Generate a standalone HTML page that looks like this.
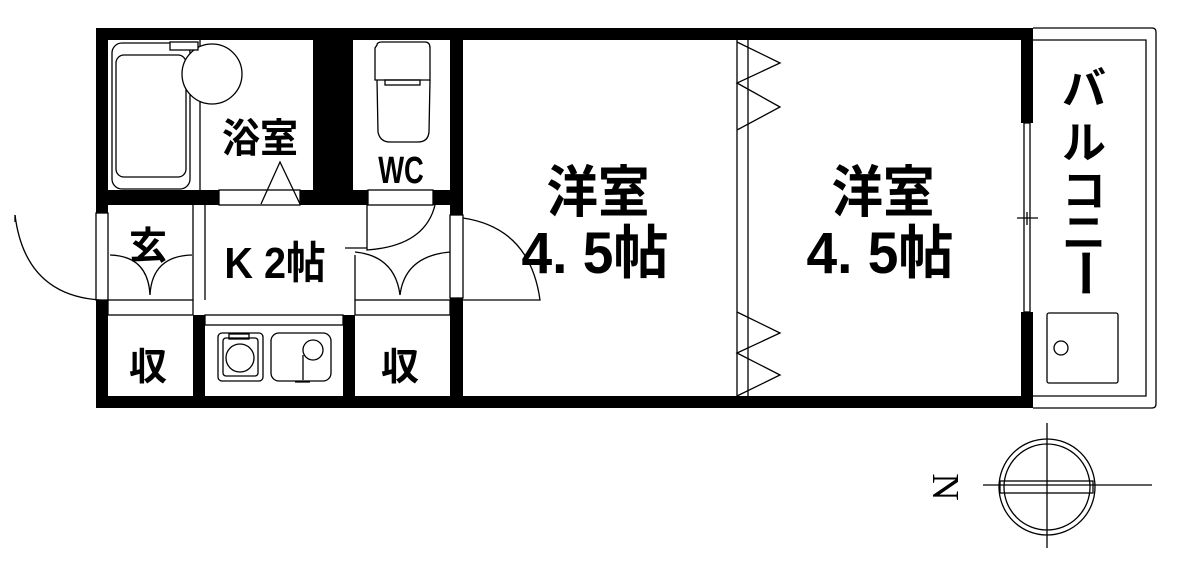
<!DOCTYPE html>
<html><head><meta charset="utf-8"><style>
html,body{margin:0;padding:0;background:#fff;}
svg{display:block}
text{font-family:"Liberation Sans","Noto Sans CJK JP",sans-serif;font-weight:bold;fill:#000}
</style></head><body>
<svg width="1185" height="571" viewBox="0 0 1185 571" xmlns="http://www.w3.org/2000/svg">
<g fill="#000">
<rect x="96" y="28" width="937" height="12"/>
<rect x="96" y="396" width="937" height="12"/>
<rect x="96" y="28" width="12" height="185"/>
<rect x="96" y="300" width="12" height="108"/>
<rect x="1021" y="28" width="12" height="95"/>
<rect x="1021" y="312" width="12" height="96"/>
<rect x="313" y="28" width="40" height="177"/>
<rect x="96" y="190" width="123" height="15"/>
<rect x="300" y="190" width="68" height="15"/>
<rect x="433" y="190" width="30" height="15"/>
<rect x="450" y="28" width="13" height="187"/>
<rect x="450" y="298" width="13" height="110"/>
<rect x="193" y="315" width="12" height="93"/>
<rect x="343" y="315" width="12" height="93"/>
</g>
<g fill="none" stroke="#000" stroke-width="1.3">
<rect x="219" y="190" width="81" height="15"/>
<path d="M261 204 L280 162 L300 204"/>
<rect x="368" y="190" width="65" height="15"/>
<rect x="112" y="43" width="78" height="146" rx="10"/>
<rect x="116" y="55" width="70" height="122" rx="8"/>
<line x1="200" y1="40" x2="200" y2="190"/>
<circle cx="212" cy="74" r="30" fill="#fff"/>
<rect x="170" y="42" width="28" height="8" fill="#fff"/>
<path d="M377 45 Q377 42 382 42 L425 42 Q430 42 430 48 L430 80 L375 80 L375 48 Z"/>
<path d="M377 80 L378 132 Q380 142 390 142 L418 142 Q428 142 429 132 L430 80"/>
<rect x="385" y="80" width="35" height="5"/>
<line x1="193" y1="205" x2="193" y2="300"/>
<line x1="205" y1="205" x2="205" y2="300"/>
<rect x="108" y="300" width="85" height="15"/>
<path d="M110 255 Q148 256 150 295 M192 255 Q152 256 150 295"/>
<path d="M355 255 L355 300"/>
<path d="M355 252 Q395 256 400 295 M450 252 Q405 256 400 295"/>
<rect x="355" y="300" width="95" height="15"/>
<path d="M367 205 L367 250 Q425 246 435 205"/>
<line x1="345" y1="248" x2="367" y2="248"/>
<rect x="96" y="213" width="12" height="87"/>
<path d="M15 215 Q25 295 100 300"/>
<line x1="15" y1="215" x2="15" y2="222"/>
<rect x="450" y="215" width="13" height="83"/>
<path d="M463 218 Q530 228 540 300 L463 300"/>
<rect x="205" y="315" width="138" height="10"/>
<rect x="218" y="333" width="45" height="48" rx="4"/>
<rect x="223" y="338" width="35" height="38" rx="3"/>
<circle cx="240" cy="358" r="14"/>
<rect x="229" y="334" width="20" height="5"/>
<rect x="271" y="333" width="60" height="48" rx="8"/>
<circle cx="313" cy="350" r="10"/>
<path d="M303 355 L303 380 M295 382 L310 382"/>
<line x1="737" y1="40" x2="737" y2="396"/>
<line x1="748" y1="40" x2="748" y2="396"/>
<path d="M737 42 L780 63 L737 83 L780 107 L737 130"/>
<path d="M737 312 L780 333 L737 353 L780 375 L737 396"/>
<rect x="1024" y="123" width="6" height="189"/>
<line x1="1017" y1="218" x2="1038" y2="218"/>
<line x1="1027" y1="212" x2="1027" y2="225"/>
<path d="M1033 28 L1152 28 Q1156 28 1156 32 L1156 404 Q1156 408 1152 408 L1033 408"/>
<path d="M1033 40 L1146 40 L1146 396 L1033 396"/>
<rect x="1047" y="313" width="71" height="70" rx="2"/>
<circle cx="1061" cy="348" r="7"/>
<circle cx="1047" cy="487" r="48"/>
<circle cx="1047" cy="487" r="43"/>
<line x1="983" y1="485" x2="1152" y2="485"/>
<line x1="1047" y1="423" x2="1047" y2="548"/>
<rect x="1000" y="481" width="93" height="12"/>
</g>
<text x="0" y="0" font-size="38" text-anchor="middle" style="font-family:'Liberation Serif',serif;font-weight:normal" transform="translate(945 487) rotate(90)" dy="12">N</text>
<text x="0" y="0" font-size="40" text-anchor="middle" transform="translate(260 152) scale(0.95 1)">浴室</text>
<text x="0" y="0" font-size="38" text-anchor="middle" transform="translate(401 183) scale(0.72 1)">WC</text>
<text x="148" y="259" font-size="38" text-anchor="middle">玄</text>
<text x="0" y="0" font-size="44" text-anchor="middle" transform="translate(275 278) scale(0.9 1)">K 2帖</text>
<text x="148" y="380" font-size="38" text-anchor="middle">収</text>
<text x="400" y="380" font-size="38" text-anchor="middle">収</text>
<text x="0" y="0" font-size="56" text-anchor="middle" transform="translate(598 212) scale(0.92 1)">洋室</text>
<text x="0" y="0" font-size="58" text-anchor="middle" transform="translate(595 273) scale(0.95 1)">4. 5帖</text>
<text x="0" y="0" font-size="56" text-anchor="middle" transform="translate(883 212) scale(0.92 1)">洋室</text>
<text x="0" y="0" font-size="58" text-anchor="middle" transform="translate(880 273) scale(0.95 1)">4. 5帖</text>
<text x="1084" y="104" font-size="44" text-anchor="middle">バ</text>
<text x="1084" y="158" font-size="44" text-anchor="middle">ル</text>
<text x="1084" y="206" font-size="44" text-anchor="middle">コ</text>
<text x="1084" y="248" font-size="44" text-anchor="middle">ニ</text>
<text x="0" y="0" font-size="50" text-anchor="middle" dominant-baseline="central" transform="translate(1084 273) rotate(90)">ー</text>
</svg>
</body></html>
